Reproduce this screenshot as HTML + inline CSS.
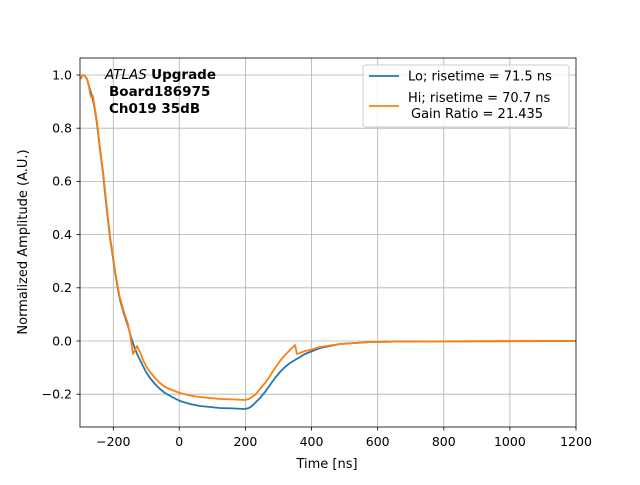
<!DOCTYPE html>
<html><head><style>body{margin:0;background:#fff}</style></head><body>
<svg width="640" height="480" viewBox="0 0 640 480" xmlns="http://www.w3.org/2000/svg" font-family="DejaVu Sans, Liberation Sans, sans-serif">
<rect width="640" height="480" fill="#fff"/>
<g stroke="#b0b0b0" stroke-width="0.8">
<line x1="113.3" y1="58" x2="113.3" y2="427"/><line x1="179.2" y1="58" x2="179.2" y2="427"/><line x1="245.4" y1="58" x2="245.4" y2="427"/><line x1="311.5" y1="58" x2="311.5" y2="427"/><line x1="377.7" y1="58" x2="377.7" y2="427"/><line x1="443.8" y1="58" x2="443.8" y2="427"/><line x1="509.9" y1="58" x2="509.9" y2="427"/>
<line x1="80" y1="394.2" x2="576" y2="394.2"/><line x1="80" y1="341" x2="576" y2="341"/><line x1="80" y1="287.8" x2="576" y2="287.8"/><line x1="80" y1="234.6" x2="576" y2="234.6"/><line x1="80" y1="181.4" x2="576" y2="181.4"/><line x1="80" y1="128.2" x2="576" y2="128.2"/><line x1="80" y1="75" x2="576" y2="75"/>
</g>
<polyline fill="none" stroke="#1f77b4" stroke-width="1.8" stroke-linejoin="round" points="81,79 82,76 83,75 85,76 87,79 89,86 92,96 94,105 96,117 98,132 100,150 103,173 105,193 108,220 110,238 113,258 115,272 118,290 120,300 124,314 128,326 131,337 135,349 138,356 141,362 146,372 150,378 155,384 160,389 165,393 172,397 180,401 190,404 200,406 210,407 220,408 235,408.5 245,409 249,408 252,406 256,402 260,398 265,392 270,385 275,378 280,372 285,367 290,363 295,360 300,357 305,354 310,352 320,348 330,346 340,344 355,343 370,342 400,341.5 576,341"/>
<polyline fill="none" stroke="#ff7f0e" stroke-width="1.8" stroke-linejoin="round" points="81,79 82,76 83,75 85,76 87,79 89,87 90,93 91,97 92,97 93,96 94,103 96,115 98,130 100,148 103,171 105,190 108,218 110,236 113,256 115,270 118,288 120,298 124,312 128,324 130,334 133,354 135,350 137,346 140,352 143,360 146,366 150,372 155,378 160,383 165,387 172,390 180,393 190,395.5 200,397 210,398 220,399 235,399.5 245,400 249,399 252,397 256,394 260,389 265,383 270,376 275,368 280,361 285,355 290,350 295,345 297,354 300,353 305,351 310,350 320,347 330,345.5 340,344 355,343 370,342 400,341.5 576,341"/>
<rect x="80" y="58" width="496" height="369" fill="none" stroke="#000" stroke-width="0.8"/>
<g stroke="#000" stroke-width="0.8">
<line x1="113.3" y1="427" x2="113.3" y2="430.5"/><line x1="179.2" y1="427" x2="179.2" y2="430.5"/><line x1="245.4" y1="427" x2="245.4" y2="430.5"/><line x1="311.5" y1="427" x2="311.5" y2="430.5"/><line x1="377.7" y1="427" x2="377.7" y2="430.5"/><line x1="443.8" y1="427" x2="443.8" y2="430.5"/><line x1="509.9" y1="427" x2="509.9" y2="430.5"/><line x1="576" y1="427" x2="576" y2="430.5"/>
<line x1="76.5" y1="394.2" x2="80" y2="394.2"/><line x1="76.5" y1="341" x2="80" y2="341"/><line x1="76.5" y1="287.8" x2="80" y2="287.8"/><line x1="76.5" y1="234.6" x2="80" y2="234.6"/><line x1="76.5" y1="181.4" x2="80" y2="181.4"/><line x1="76.5" y1="128.2" x2="80" y2="128.2"/><line x1="76.5" y1="75" x2="80" y2="75"/>
</g>
<g font-size="12.5" text-anchor="middle" fill="#000">
<text x="113.3" y="446">−200</text><text x="179.2" y="446">0</text><text x="245.4" y="446">200</text><text x="311.5" y="446">400</text><text x="377.7" y="446">600</text><text x="443.8" y="446">800</text><text x="509.9" y="446">1000</text><text x="576" y="446">1200</text>
<text x="327" y="468" font-size="13">Time [ns]</text>
</g>
<g font-size="12.5" text-anchor="end" fill="#000">
<text x="72" y="398.5">−0.2</text><text x="72" y="345.5">0.0</text><text x="72" y="292">0.2</text><text x="72" y="239">0.4</text><text x="72" y="185.5">0.6</text><text x="72" y="132.5">0.8</text><text x="72" y="79.5">1.0</text>
</g>
<text transform="translate(27,242) rotate(-90)" font-size="13" text-anchor="middle">Normalized Amplitude (A.U.)</text>
<g font-size="13.5" fill="#000">
<text x="105" y="79"><tspan font-style="italic">ATLAS</tspan> <tspan font-weight="bold">Upgrade</tspan></text>
<text x="109" y="96" font-weight="bold">Board186975</text>
<text x="109" y="113" font-weight="bold">Ch019 35dB</text>
</g>
<rect x="363" y="65" width="206" height="62" rx="3" fill="#fff" fill-opacity="0.8" stroke="#ccc"/>
<line x1="369" y1="76" x2="399" y2="76" stroke="#1f77b4" stroke-width="1.8"/>
<line x1="369" y1="106" x2="399" y2="106" stroke="#ff7f0e" stroke-width="1.8"/>
<g font-size="13" fill="#000">
<text x="408" y="80.5">Lo; risetime = 71.5 ns</text>
<text x="408" y="102">Hi; risetime = 70.7 ns</text>
<text x="411" y="118"> Gain Ratio = 21.435</text>
</g>
</svg>
</body></html>
